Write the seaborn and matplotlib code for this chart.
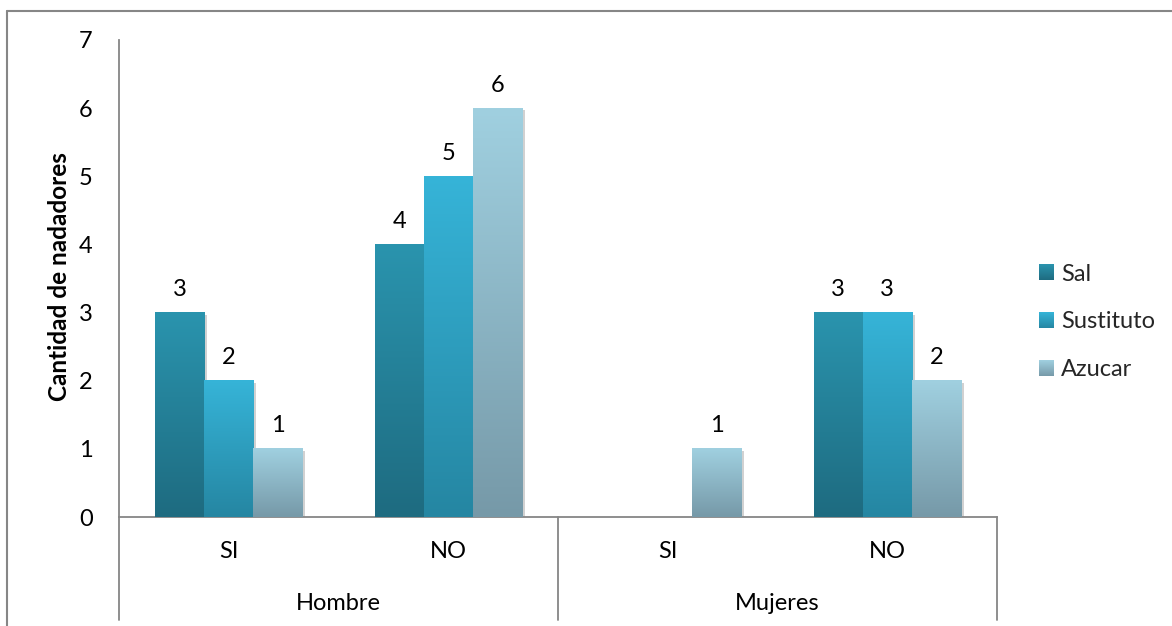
import numpy as np
import pandas as pd
import seaborn as sns
import matplotlib
matplotlib.use("Agg")
import matplotlib.pyplot as plt
from matplotlib.patches import Rectangle, Patch
from matplotlib.lines import Line2D
from matplotlib.legend_handler import HandlerBase
from matplotlib.colors import to_rgb
import matplotlib.patheffects as pe
import matplotlib.transforms as mtransforms

# ---- data ----
grupos = ["Hombre", "Hombre", "Mujeres", "Mujeres"]
respuestas = ["SI", "NO", "SI", "NO"]
series = ["Sal", "Sustituto", "Azucar"]
sal = [3, 4, 0, 3]
sustituto = [2, 5, 0, 3]
azucar = [1, 6, 1, 2]
yticks = [0, 1, 2, 3, 4, 5, 6, 7]
ylabel = "Cantidad de nadadores"

# gradient colours (top, bottom) for each series
top_colors = {"Sal": "#2a94ae", "Sustituto": "#36b4d8", "Azucar": "#a0d0e0"}
bottom_colors = {"Sal": "#1e6b80", "Sustituto": "#2586a2", "Azucar": "#7699a8"}

cats = [f"{g} {r}" for g, r in zip(grupos, respuestas)]
values = {"Sal": sal, "Sustituto": sustituto, "Azucar": azucar}
df = pd.DataFrame(
    [(c, s, v) for s in series for c, v in zip(cats, values[s])],
    columns=["categoria", "serie", "cantidad"],
)

sns.set_theme(style="white")
plt.rcParams["font.family"] = ["Lato", "DejaVu Sans"]
FS = 17

W, H = 1172, 626
fig = plt.figure(figsize=(W / 100, H / 100), dpi=100)
fig.patch.set_facecolor("white")

x0, x1, y0, y7 = 119, 997, 517, 40
ax = fig.add_axes([x0 / W, 1 - y0 / H, (x1 - x0) / W, (y0 - y7) / H])

sns.barplot(
    data=df, x="categoria", y="cantidad", hue="serie",
    order=cats, hue_order=series, palette=bottom_colors,
    width=0.67, saturation=1, errorbar=None, legend=False, ax=ax,
)

ax.set_xlim(-0.5, len(cats) - 0.5)
ax.set_ylim(0, 7)
ax.set_autoscale_on(False)

grey = "#868686"
shadow = [pe.SimplePatchShadow(offset=(2, -1.5), shadow_rgbFace="black", alpha=0.18), pe.Normal()]


def gradient(top, bottom, n=256):
    t = np.linspace(0, 1, n)[:, None]
    a, b = np.array(to_rgb(bottom)), np.array(to_rgb(top))
    return (a + (b - a) * t)[:, None, :]


for serie, cont in zip(series, ax.containers):
    grad = gradient(top_colors[serie], bottom_colors[serie])
    for patch, v in zip(cont.patches, values[serie]):
        if v <= 0:
            patch.set_visible(False)
            continue
        patch.set_edgecolor("none")
        patch.set_path_effects(shadow)
        px, pw, ph = patch.get_x(), patch.get_width(), patch.get_height()
        ax.imshow(grad, extent=[px, px + pw, 0, ph], origin="lower",
                  aspect="auto", interpolation="bilinear", zorder=3)
    ax.bar_label(cont, labels=[str(v) if v > 0 else "" for v in values[serie]],
                 padding=9, fontsize=FS, color="black", zorder=4)

# axes styling
for s in ["top", "right"]:
    ax.spines[s].set_visible(False)
for s in ["left", "bottom"]:
    ax.spines[s].set_color(grey)
    ax.spines[s].set_linewidth(1.3)
ax.set_yticks(yticks)
ax.set_yticklabels([str(t) for t in yticks], fontsize=FS, color="black")
ax.tick_params(axis="y", length=0, pad=19)
ax.set_xticks([])
ax.set_xlabel("")
ax.set_ylabel(ylabel, fontsize=FS + 0.5, fontweight="bold", color="black", va="center")
ax.yaxis.set_label_coords((60 - x0) / (x1 - x0), (y0 - 277) / (y0 - y7))

# two-level category axis
btrans = mtransforms.blended_transform_factory(ax.transData, ax.transAxes)
depth = -(620 - y0) / (y0 - y7)
for xs in [-0.5, 1.5, 3.5]:
    ax.add_line(Line2D([xs, xs], [0, depth], transform=btrans, color=grey,
                       lw=1.3, clip_on=False))
for i, r in enumerate(respuestas):
    ax.text(i, -(551 - y0) / (y0 - y7), r, transform=btrans, ha="center",
            va="center", fontsize=FS, color="black")
for j, g in enumerate(["Hombre", "Mujeres"]):
    ax.text(2 * j + 0.5, -(604 - y0) / (y0 - y7), g, transform=btrans,
            ha="center", va="center", fontsize=FS, color="black")


# legend with gradient swatches
class GradientHandler(HandlerBase):
    def create_artists(self, legend, orig_handle, xdescent, ydescent,
                       width, height, fontsize, trans):
        top, bottom = orig_handle._grad
        n = 16
        a, b = np.array(to_rgb(bottom)), np.array(to_rgb(top))
        arts = []
        for k in range(n):
            c = a + (b - a) * (k + 0.5) / n
            arts.append(Rectangle((-xdescent, -ydescent + height * k / n), width,
                                  height / n + 0.3, facecolor=c, edgecolor="none",
                                  transform=trans))
        return arts


handles = []
for s in series:
    h = Patch(label=s)
    h._grad = (top_colors[s], bottom_colors[s])
    handles.append(h)
fig.legend(handles=handles, labels=series, loc="center left",
           bbox_to_anchor=(1039 / W, 1 - 322 / H), frameon=False,
           fontsize=FS, handler_map={Patch: GradientHandler()},
           handlelength=0.64, handleheight=0.64, handletextpad=0.3,
           labelspacing=1.14, borderpad=0, borderaxespad=0)

# chart frame
fig.add_artist(Line2D([7 / W, 1], [1 - 11 / H, 1 - 11 / H], transform=fig.transFigure,
                      color=grey, lw=1.5))
fig.add_artist(Line2D([7 / W, 7 / W], [0, 1 - 11 / H], transform=fig.transFigure,
                      color=grey, lw=1.5))

fig.savefig("out.png", dpi=100)
